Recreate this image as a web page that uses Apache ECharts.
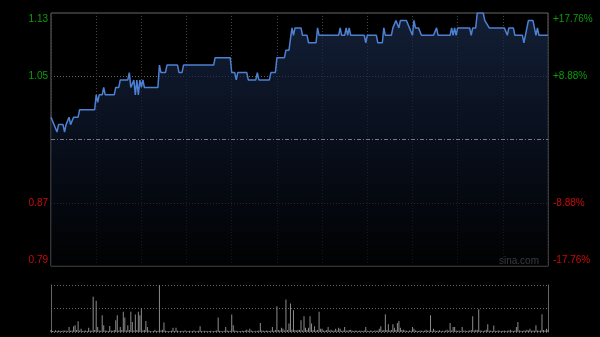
<!DOCTYPE html>
<html><head><meta charset="utf-8">
<script src="https://cdn.jsdelivr.net/npm/echarts@6/dist/echarts.min.js"></script>
<style>html,body{margin:0;padding:0;background:#000;}#c{width:600px;height:337px;}</style>
</head><body><div id="c"></div>
<script>
// Price line breakpoints: trading minute (0 = 9:30, 330 = 16:00) and price
const priceMinutes = [0,1,2,3,4,5,8,9,10,11,12,13,14,15,18,19,29,30,31,32,34,35,36,42,43,45,46,51,52,53,54,55,56,57,58,59,60,61,62,71,72,73,76,77,84,85,87,88,108,109,119,120,122,123,124,130,131,136,137,138,145,146,149,150,155,156,158,160,161,162,166,167,170,171,176,177,178,191,192,193,195,196,197,198,199,208,209,210,216,217,220,221,222,226,227,228,229,230,231,232,236,238,240,241,242,244,246,254,256,257,265,266,267,268,269,270,278,279,280,282,283,287,288,289,291,301,303,304,307,308,313,314,316,317,320,322,323,324,330];
const prices = [0.99,0.99,0.98,0.98,0.97,0.98,0.98,0.97,0.98,0.98,0.99,0.98,0.98,0.99,0.99,1.00,1.00,1.02,1.01,1.02,1.02,1.03,1.02,1.02,1.03,1.03,1.04,1.04,1.05,1.03,1.03,1.04,1.02,1.04,1.02,1.04,1.03,1.04,1.03,1.03,1.06,1.05,1.05,1.06,1.06,1.05,1.05,1.06,1.06,1.07,1.07,1.05,1.05,1.04,1.05,1.05,1.04,1.04,1.05,1.04,1.04,1.05,1.05,1.07,1.07,1.08,1.08,1.11,1.10,1.11,1.11,1.10,1.10,1.09,1.09,1.11,1.10,1.10,1.11,1.10,1.10,1.11,1.10,1.11,1.10,1.10,1.09,1.10,1.10,1.09,1.09,1.11,1.10,1.10,1.11,1.11,1.12,1.12,1.11,1.12,1.12,1.11,1.10,1.12,1.11,1.11,1.10,1.10,1.11,1.10,1.10,1.11,1.10,1.11,1.10,1.11,1.11,1.10,1.11,1.11,1.13,1.13,1.12,1.12,1.11,1.11,1.10,1.11,1.11,1.10,1.10,1.09,1.11,1.12,1.12,1.10,1.11,1.10,1.10];
// Per-minute volume (relative units), minutes 0..330
const volumes = [
40,20,15,36,20,30,25,20,30,25,
30,20,107,25,30,120,143,40,229,30,
71,20,25,30,20,93,30,25,750,40,
664,107,30,25,357,143,30,25,20,129,
30,25,40,250,357,30,107,40,429,307,
30,143,40,429,214,30,371,40,429,357,
500,30,40,236,107,30,20,15,20,50,
20,25,1000,30,50,200,25,20,15,20,
25,93,20,93,25,15,20,25,15,36,
15,20,25,15,20,30,15,20,25,120,
20,15,25,20,15,20,25,15,20,25,
30,307,25,20,15,25,107,30,20,25,
371,143,30,25,20,15,20,25,20,30,
50,25,71,30,20,15,25,20,30,193,
30,25,20,30,25,20,30,107,25,40,
550,40,30,93,71,30,693,40,179,607,
50,464,40,30,50,40,250,30,336,93,
40,93,336,179,40,121,30,40,429,71,
71,30,25,40,107,30,50,25,30,71,
30,93,71,25,30,107,30,25,40,50,
25,20,30,25,20,30,25,20,30,107,
25,20,30,25,20,30,25,30,71,121,
30,40,379,40,164,30,40,164,93,40,
193,236,93,40,50,30,25,20,30,25,
107,71,30,25,20,30,25,20,25,50,
25,30,357,25,71,30,20,25,36,20,
25,20,30,50,25,193,30,107,107,30,
25,30,20,107,25,30,20,25,30,40,
336,30,50,40,486,30,25,20,30,50,
164,25,30,20,136,25,20,30,25,20,
25,30,20,25,30,50,25,20,30,107,
214,30,25,20,30,25,50,30,71,25,
30,25,143,30,25,30,379,40,30,71,
50];
const priceMin = 0.79, priceMax = 1.13, prevClose = 0.96;
const priceTicks = [0.79, 0.875, 1.045, 1.13];
const priceTickLabels = ['0.79', '0.87', '1.05', '1.13'];
const pctTickLabels = ['-17.76%', '-8.88%', '+8.88%', '+17.76%'];
const volMax = 1000;

const lineData = priceMinutes.map((m, i) => [m, prices[i]]);
const volData = volumes.map((v, i) => [i, v]);

function lbl(list) {
  return function (val) {
    let idx = 0, best = 1e9;
    priceTicks.forEach((t, i) => { const d = Math.abs(t - val); if (d < best) { best = d; idx = i; } });
    const key = idx === 0 ? 'rb' : idx === 1 ? 'r' : idx === 2 ? 'g' : 'gt';
    return '{' + key + '|' + list[idx] + '}';
  };
}
const FONT = 'Arial, "Liberation Sans", sans-serif';
const rich = {
  gt: { color: '#0a9e0a', fontSize: 10, fontFamily: FONT, padding: [12, 0, 0, 0] },
  g: { color: '#0a9e0a', fontSize: 10, fontFamily: FONT },
  r: { color: '#cc0a0a', fontSize: 10, fontFamily: FONT },
  rb: { color: '#cc0a0a', fontSize: 10, fontFamily: FONT, padding: [0, 0, 12, 0] }
};

const chart = echarts.init(document.getElementById('c'), null, { renderer: 'canvas' });
chart.setOption({
  backgroundColor: '#000',
  animation: false,
  grid: [
    { left: 51, right: 52, top: 13, height: 253, show: true, borderColor: '#666', borderWidth: 1, backgroundColor: 'transparent' },
    { left: 51, right: 52, top: 285, height: 47, show: false }
  ],
  xAxis: [
    { type: 'value', gridIndex: 0, min: 0, max: 330, interval: 30,
      axisLine: { show: false }, axisTick: { show: false }, axisLabel: { show: false },
      splitLine: { show: true, lineStyle: { color: '#444', type: [1, 2], width: 1 } } },
    { type: 'value', gridIndex: 1, min: 0, max: 330,
      axisLine: { show: false }, axisTick: { show: false }, axisLabel: { show: false }, splitLine: { show: false } }
  ],
  yAxis: [
    { type: 'value', gridIndex: 0, min: priceMin, max: priceMax, position: 'left',
      axisLine: { show: false },
      axisTick: { show: false, customValues: [0.875, 1.045] },
      axisLabel: { customValues: priceTicks, formatter: lbl(priceTickLabels), margin: 3, rich: rich },
      splitLine: { show: true, lineStyle: { color: '#666', type: [1, 2], width: 1 } } },
    { type: 'value', gridIndex: 0, min: priceMin, max: priceMax, position: 'right',
      axisLine: { show: false },
      axisTick: { show: false, customValues: priceTicks },
      axisLabel: { customValues: priceTicks, formatter: lbl(pctTickLabels), margin: 5, rich: rich },
      splitLine: { show: false } },
    { type: 'value', gridIndex: 1, min: 0, max: volMax, interval: volMax / 2, position: 'left',
      axisLine: { show: true, lineStyle: { color: '#666', width: 1 } },
      axisTick: { show: false }, axisLabel: { show: false },
      splitLine: { show: true, lineStyle: { color: '#666', type: [1, 2], width: 1 } } },
    { type: 'value', gridIndex: 1, min: 0, max: volMax, position: 'right',
      axisLine: { show: true, lineStyle: { color: '#666', width: 1 } },
      axisTick: { show: false }, axisLabel: { show: false }, splitLine: { show: false } }
  ],
  graphic: [
    { type: 'text', left: 499, top: 256, silent: true,
      style: { text: 'sina.com', fill: '#b4b4b4', font: '10px ' + FONT } }
  ],
  series: [
    { type: 'line', xAxisIndex: 0, yAxisIndex: 0, data: lineData, showSymbol: false, symbol: 'none',
      lineStyle: { color: '#4d80d2', width: 1.5 },
      areaStyle: { origin: 'start', color: new echarts.graphic.LinearGradient(0, 0, 0, 1, [
        { offset: 0, color: '#1b2c4d' }, { offset: 0.5, color: '#0c1528' }, { offset: 1, color: '#010203' }]) },
      markLine: { silent: true, symbol: 'none', label: { show: false },
        lineStyle: { color: '#7a7a7a', type: [4, 2, 1, 2], width: 1 },
        data: [{ yAxis: prevClose }] },
      z: 3 },
    { type: 'bar', xAxisIndex: 1, yAxisIndex: 2, data: volData, barWidth: 1,
      itemStyle: { color: '#8c8c8c' } }
  ]
});
</script></body></html>
